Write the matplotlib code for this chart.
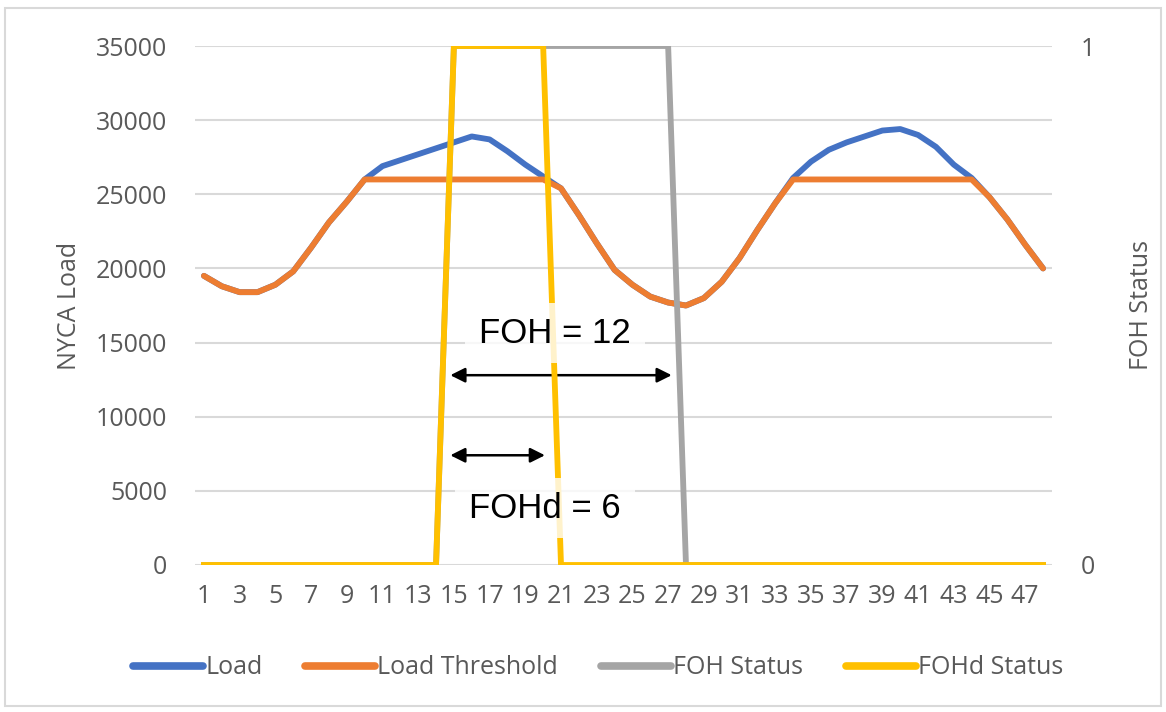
import matplotlib
matplotlib.use("Agg")
import matplotlib.pyplot as plt
from matplotlib.patches import Rectangle

hours = list(range(1, 49))
load = [19500, 18800, 18400, 18400, 18900, 19800, 21400, 23100, 24500, 26000,
        26900, 27300, 27700, 28100, 28500, 28900, 28700, 27900, 27000, 26200,
        25400, 23600, 21700, 19900, 18900, 18100, 17700, 17500, 18000, 19100,
        20700, 22600, 24400, 26100, 27200, 28000, 28500, 28900, 29300, 29400,
        29000, 28200, 27000, 26100, 24800, 23300, 21600, 20000]
threshold = [19500, 18800, 18400, 18400, 18900, 19800, 21400, 23100, 24500, 26000,
             26000, 26000, 26000, 26000, 26000, 26000, 26000, 26000, 26000, 26000,
             25400, 23600, 21700, 19900, 18900, 18100, 17700, 17500, 18000, 19100,
             20700, 22600, 24400, 26000, 26000, 26000, 26000, 26000, 26000, 26000,
             26000, 26000, 26000, 26000, 24800, 23300, 21600, 20000]
foh_status = [0] * 14 + [1] * 13 + [0] * 21
fohd_status = [0] * 14 + [1] * 6 + [0] * 28

foh_hours = 12
fohd_hours = 6

plt.rcParams['font.family'] = ['Open Sans', 'DejaVu Sans']
grey_text = '#595959'
tick_size = 18
lw = 4.2

fig = plt.figure(figsize=(11.66, 7.12), dpi=100)
ax = fig.add_axes([195 / 1166, 147 / 712, 857 / 1166, 519 / 712])

ax.plot(hours, load, color='#4472C4', lw=lw, solid_capstyle='round', label='Load')
ax.plot(hours, threshold, color='#ED7D31', lw=lw, solid_capstyle='round',
        label='Load Threshold')

ax.set_xlim(0.5, 48.5)
ax.set_ylim(0, 35000)
ax.set_yticks(range(0, 35001, 5000))
ax.set_xticks(hours[::2])
ax.grid(axis='y', color='#D9D9D9', lw=1.5)
ax.set_axisbelow(True)
ax.tick_params(length=0, labelsize=tick_size, labelcolor=grey_text)
ax.tick_params(axis='y', pad=20)
ax.tick_params(axis='x', pad=14)
ax.set_ylabel('NYCA Load', fontsize=tick_size, color=grey_text, labelpad=10)
for s in ax.spines.values():
    s.set_visible(False)

ax2 = ax.twinx()
ax2.plot(hours, foh_status, color='#A5A5A5', lw=lw, label='FOH Status')
ax2.plot(hours, fohd_status, color='#FFC000', lw=lw, label='FOHd Status')
ax2.set_ylim(0, 1)
ax2.set_yticks([0, 1])
ax2.tick_params(length=0, labelsize=tick_size, labelcolor=grey_text, pad=21)
ax2.set_ylabel('FOH Status', fontsize=tick_size, color=grey_text, labelpad=24)
for s in ax2.spines.values():
    s.set_visible(False)

# duration arrows and their labels
arrow = dict(arrowstyle='<|-|>', color='black', lw=1.8, mutation_scale=22,
             shrinkA=0, shrinkB=0)
ax.annotate('', xy=(14.8, 12800), xytext=(27.2, 12800), arrowprops=arrow, zorder=6)
ax.annotate('', xy=(14.8, 7400), xytext=(20.1, 7400), arrowprops=arrow, zorder=6)

box = dict(boxstyle='square,pad=0.4', fc='white', ec='none', alpha=0.8)
fig.text(555 / 1166, 1 - 333 / 712, f'FOH = {foh_hours}', fontsize=25,
         family='Liberation Sans', ha='center', va='center', bbox=box, zorder=5)
fig.text(545 / 1166, 1 - 508 / 712, f'FOHd = {fohd_hours}', fontsize=25,
         family='Liberation Sans', ha='center', va='center', bbox=box, zorder=5)

handles = ax.get_lines() + ax2.get_lines()
leg = fig.legend(handles, [h.get_label() for h in handles], loc='center',
                 bbox_to_anchor=(598 / 1166, 1 - 668 / 712), ncol=4, frameon=False,
                 fontsize=tick_size, handlelength=2.8, handletextpad=0.1,
                 columnspacing=1.7)
for t in leg.get_texts():
    t.set_color(grey_text)
for h in leg.legend_handles:
    h.set_linewidth(5.5)
    h.set_solid_capstyle('round')

fig.patches.append(Rectangle((5 / 1166, 6 / 712), 1156 / 1166, 698 / 712,
                             transform=fig.transFigure, fill=False,
                             ec='#D9D9D9', lw=1.5))

fig.savefig('out.png', dpi=100)
